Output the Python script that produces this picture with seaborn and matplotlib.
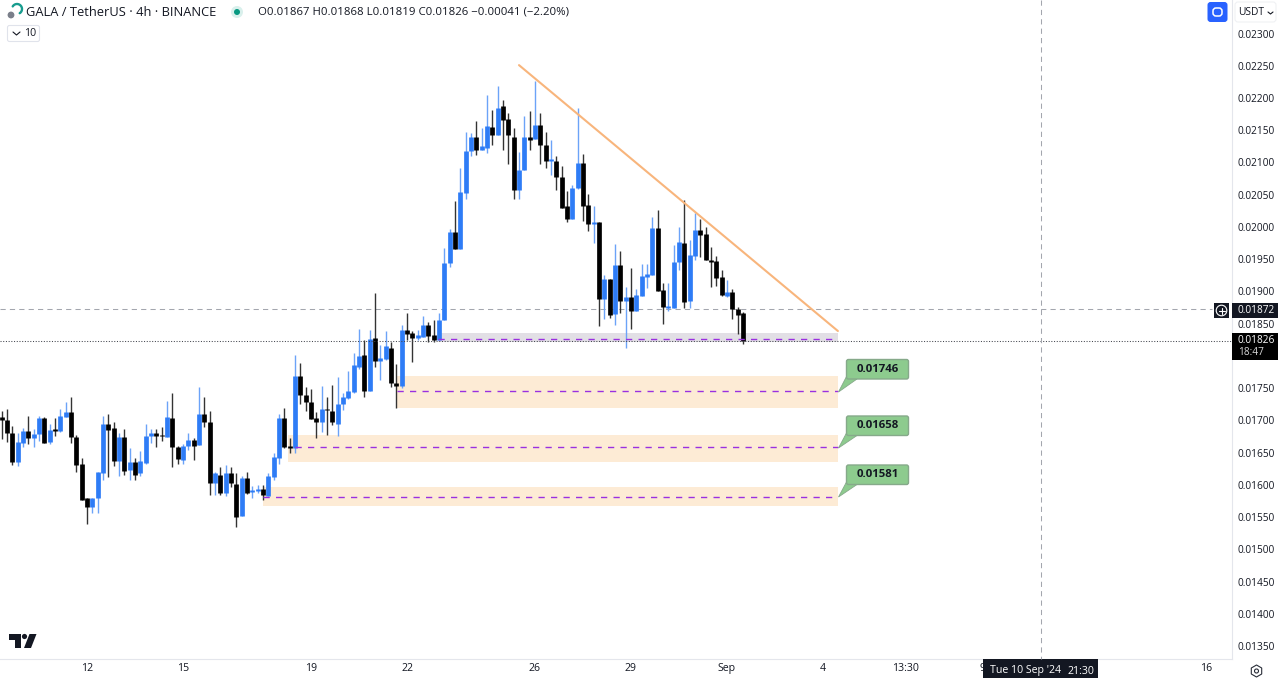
import numpy as np
import pandas as pd
import seaborn as sns
import matplotlib
matplotlib.use("Agg")
import matplotlib.pyplot as plt
from matplotlib.patches import Rectangle, FancyBboxPatch, Polygon, Circle, RegularPolygon

# ---- data: prices in units of 0.00001 USDT -------------------------------
opens = [1705,1700,1680,1636,1665,1684,1673,1679,1704,1666,
         1687,1684,1705,1713,1674,1632,1579,1565,1580,1619,
         1695,1688,1637,1674,1623,1636,1618,1634,1675,1680,
         1677,1674,1704,1658,1638,1660,1669,1662,1710,1698,
         1603,1615,1587,1619,1602,1551,1611,1589,1590,1593,
         1583,1612,1642,1703,1661,1657,1769,1740,1728,1703,
         1698,1718,1715,1695,1726,1734,1744,1783,1802,1746,
         1828,1792,1795,1813,1758,1753,1840,1835,1827,1830,
         1848,1833,1825,1855,1944,1992,1966,2053,2118,2140,
         2119,2123,2155,2143,2187,2167,2140,2057,2088,2139,
         2136,2158,2127,2102,2103,2077,2032,2013,2060,2099,
         2034,2004,2008,1888,1920,1865,1941,1885,1891,1870,
         1893,1923,1925,1999,1902,1874,1875,1946,1975,1885,
         1955,1996,1989,1949,1947,1922,1893,1899,1872,1867]
highs = [1715,1718,1692,1681,1688,1707,1686,1707,1705,1695,
         1703,1718,1728,1736,1678,1641,1579,1580,1620,1707,
         1710,1697,1681,1686,1657,1641,1653,1695,1686,1686,
         1690,1730,1743,1660,1664,1680,1672,1751,1737,1714,
         1620,1627,1631,1627,1619,1613,1620,1598,1600,1600,
         1619,1649,1710,1719,1673,1801,1789,1751,1749,1713,
         1753,1737,1755,1767,1742,1777,1805,1842,1825,1840,
         1898,1817,1838,1822,1788,1848,1866,1838,1840,1862,
         1852,1856,1866,1968,1997,2041,2091,2148,2146,2165,
         2153,2205,2181,2219,2197,2176,2153,2117,2172,2180,
         2226,2176,2147,2135,2110,2094,2055,2065,2184,2113,
         2051,2032,2008,1925,1920,1974,1962,1907,1936,1903,
         1943,1943,2016,2026,1913,1913,1972,2000,2042,1980,
         2022,2013,2000,1969,1955,1933,1918,1903,1876,1868]
lows = [1671,1667,1631,1629,1658,1663,1658,1668,1665,1663,
        1675,1682,1705,1665,1620,1576,1539,1556,1556,1607,
        1612,1629,1614,1615,1608,1608,1613,1632,1665,1658,
        1668,1674,1628,1632,1632,1654,1638,1662,1690,1584,
        1584,1584,1583,1596,1534,1551,1586,1579,1587,1576,
        1582,1608,1633,1657,1650,1650,1725,1715,1702,1672,
        1682,1677,1693,1676,1716,1733,1743,1779,1737,1746,
        1783,1763,1794,1751,1719,1750,1825,1791,1825,1829,
        1822,1822,1824,1855,1938,1966,1966,2044,2110,2112,
        2119,2115,2127,2143,2120,2097,2044,2043,2088,2119,
        2136,2097,2091,2081,2058,2030,2007,2013,2059,2010,
        1993,1975,1846,1858,1859,1848,1866,1813,1841,1869,
        1893,1905,1925,1901,1849,1869,1875,1933,1875,1875,
        1949,1954,1948,1907,1908,1893,1892,1858,1834,1819]
closes = [1700,1680,1635,1666,1684,1672,1679,1704,1665,1685,
          1684,1707,1713,1674,1631,1576,1565,1580,1620,1694,
          1685,1637,1674,1622,1636,1616,1637,1676,1681,1676,
          1675,1705,1658,1640,1661,1669,1661,1710,1698,1603,
          1619,1587,1619,1603,1550,1611,1587,1592,1593,1584,
          1614,1643,1704,1659,1657,1769,1739,1728,1702,1698,
          1717,1716,1697,1726,1737,1746,1786,1800,1746,1826,
          1792,1796,1815,1758,1754,1840,1834,1827,1832,1848,
          1831,1824,1856,1944,1992,1966,2054,2118,2140,2120,
          2125,2157,2143,2185,2166,2142,2057,2088,2140,2135,
          2158,2127,2103,2105,2077,2030,2013,2060,2099,2033,
          2005,2008,1888,1919,1864,1941,1885,1892,1869,1894,
          1924,1927,1998,1901,1876,1877,1946,1976,1884,1957,
          1996,1988,1948,1946,1921,1894,1899,1872,1864,1823]

x_tick_pos = [16, 34, 58, 76, 100, 118, 136, 154, 169.4, 184, 225.8]
x_tick_labels = ["12", "15", "19", "22", "26", "29", "Sep", "4", "13:30", "9", "16"]
price_ticks = [0.01350, 0.01400, 0.01450, 0.01500, 0.01550, 0.01600, 0.01650, 0.01700,
               0.01750, 0.01850, 0.01900, 0.01950, 0.02000, 0.02050, 0.02100,
               0.02150, 0.02200, 0.02250, 0.02300]

zone_start = [81.8, 74.1, 53.7, 49.0]
zone_end = 156.8
zone_top = [1835.5, 1769.5, 1677, 1597]
zone_bottom = [1821.5, 1719, 1635, 1567]
zone_level = [1826, 1746, 1658, 1581]
level_start = [81.8, 74.1, 55, 49.0]
trend_x = [97, 156.8]
trend_y = [2251, 1838.6]
cross_price = 0.01872
last_price = 0.01823

UNIT = 1e-5
BLUE, BLACK = "#2e7cf6", "#000000"
INK = "#131722"

sns.set_theme(style="white")
plt.rcParams["font.family"] = ["Open Sans", "DejaVu Sans"]

fig = plt.figure(figsize=(12.8, 6.78), dpi=100, facecolor="white")
ax = fig.add_axes([0, 19 / 678, 1232 / 1280, 659 / 678])
ax.set_facecolor("white")

# ---- candles, long form ---------------------------------------------------
o, h, l, c = (np.array(a) * UNIT for a in (opens, highs, lows, closes))
idx = np.arange(len(o))
side = np.where(c >= o, "up", "down")
wicks = pd.DataFrame({"i": np.r_[idx, idx], "price": np.r_[l, h],
                      "candle": np.r_[idx, idx], "side": np.r_[side, side]})
bodies = pd.DataFrame({"i": np.r_[idx, idx], "price": np.r_[o, c],
                       "candle": np.r_[idx, idx], "side": np.r_[side, side]})

# zones
for s, t, b in zip(zone_start[1:], zone_top[1:], zone_bottom[1:]):
    ax.add_patch(Rectangle((s, b * UNIT), zone_end - s, (t - b) * UNIT,
                           fc="#fdebd5", ec="none", zorder=1))
ax.add_patch(Rectangle((zone_start[0], zone_bottom[0] * UNIT), zone_end - zone_start[0],
                       (zone_top[0] - zone_bottom[0]) * UNIT, fc="#e2dfe5", ec="none", zorder=1))

ax.axhline(cross_price, color="#a3a6ae", lw=0.75, ls=(0, (5, 4)), xmax=1212 / 1232, zorder=1.5)

sns.lineplot(data=wicks, x="i", y="price", units="candle", hue="side", estimator=None,
             palette={"up": "#6ba3f8", "down": "#333333"}, lw=1.0, sort=False,
             legend=False, ax=ax, zorder=2, solid_capstyle="butt")
sns.lineplot(data=bodies, x="i", y="price", units="candle", hue="side", estimator=None,
             palette={"up": BLUE, "down": BLACK}, lw=3.4, sort=False,
             legend=False, ax=ax, zorder=3, solid_capstyle="butt")

for s, lv in zip(level_start, zone_level):
    ax.plot([s, zone_end], [lv * UNIT, lv * UNIT], color="#9a30e0", lw=1.0,
            ls=(0, (4.5, 4.5)), zorder=4)

ax.plot(trend_x, np.array(trend_y) * UNIT, color="#f8b57c", lw=1.5, zorder=4)
ax.axhline(last_price, color="#44474f", lw=0.75, ls=(0, (1, 1.6)), zorder=4)

# ---- scales ---------------------------------------------------------------
ax.set_xlim(-0.32, 230.7)
ax.set_ylim(0.013299, 0.02352)
ax.set_xlabel("")
ax.set_ylabel("")
ax.set_xticks(x_tick_pos)
ax.set_xticklabels(x_tick_labels)
ax.yaxis.tick_right()
ax.set_yticks(price_ticks)
ax.set_yticklabels([f"{p:.5f}" for p in price_ticks])
ax.tick_params(axis="y", length=0, pad=4.3, labelsize=7.3, labelcolor=INK, labelright=True)
ax.tick_params(axis="x", length=0, pad=3.2, labelsize=7.6, labelcolor=INK)
for name, sp in ax.spines.items():
    sp.set_visible(name in ("bottom", "right"))
    sp.set_color("#e4e6ec")
    sp.set_linewidth(0.8)

# ---- interface overlay in pixel coordinates -------------------------------
ui = fig.add_axes([0, 0, 1, 1], zorder=10)
ui.set_xlim(0, 1280)
ui.set_ylim(678, 0)
ui.axis("off")
ui.patch.set_alpha(0)

# crosshair vertical
ui.plot([1040.5, 1040.5], [0, 659], color="#a3a6ae", lw=0.75, ls=(0, (5, 4)))

# header
ui.add_patch(Circle((11, 15), 3.4, fc="#7a7f8a", ec="none"))
t = np.linspace(-2.6, 1.0, 30)
ui.plot(17 + 5 * np.cos(t), 9 + 5 * np.sin(t), color="#179c8e", lw=1.7)
ui.text(26, 12.5, "GALA / TetherUS · 4h · BINANCE", fontsize=9.3, color=INK, va="center")
ui.add_patch(Circle((237, 12), 6, fc="#d9f0ec", ec="none"))
ui.add_patch(Circle((237, 12), 3, fc="#089981", ec="none"))
ui.text(258, 12.5, "O0.01867 H0.01868 L0.01819 C0.01826 −0.00041 (−2.20%)",
        fontsize=8.2, color=INK, va="center")

ui.add_patch(FancyBboxPatch((7.5, 25.5), 32, 16, boxstyle="round,pad=0,rounding_size=2",
                            fc="white", ec="#e0e3eb", lw=0.8))
ui.plot([13, 16.5, 20], [32, 35, 32], color=INK, lw=0.8)
ui.text(24, 33.5, "10", fontsize=7.6, color=INK, va="center")

# top-right buttons
ui.add_patch(FancyBboxPatch((1207.5, 2), 20, 20, boxstyle="round,pad=0,rounding_size=3",
                            fc="#2962ff", ec="none"))
ui.add_patch(FancyBboxPatch((1213, 8), 9, 8, boxstyle="round,pad=0,rounding_size=3",
                            fc="none", ec="white", lw=1.1))
ui.add_patch(FancyBboxPatch((1235, 2), 41, 20, boxstyle="round,pad=0,rounding_size=3",
                            fc="white", ec="#f0f1f4", lw=0.8))
ui.text(1238, 12.5, "USDT", fontsize=7.4, color=INK, va="center")
ui.plot([1268, 1270.5, 1273], [12, 14, 12], color=INK, lw=0.8)

# TradingView mark
ui.add_patch(Polygon([(9, 634), (21, 634), (21, 648), (15, 648), (15, 640), (9, 640)],
                     fc=INK, ec="none"))
ui.add_patch(Circle((24.5, 636.5), 2.6, fc=INK, ec="none"))
ui.add_patch(Polygon([(29.5, 634), (36.5, 634), (31, 648), (24, 648)], fc=INK, ec="none"))

# price boxes
ui.add_patch(Rectangle((1214, 303), 15, 15, fc=INK, ec="none"))
ui.add_patch(Circle((1221.5, 310.5), 5.3, fc="none", ec="white", lw=0.8))
ui.plot([1218.5, 1224.5], [310.5, 310.5], color="white", lw=0.8)
ui.plot([1221.5, 1221.5], [307.5, 313.5], color="white", lw=0.8)
ui.add_patch(Rectangle((1232, 303), 46, 15, fc=INK, ec="none"))
ui.text(1238, 310.8, "0.01872", fontsize=7.3, color="white", va="center")
ui.add_patch(Rectangle((1232, 333), 46, 27, fc="#000000", ec="none"))
ui.text(1238, 340.5, "0.01826", fontsize=7.3, color="white", va="center")
ui.text(1238, 352.5, "18:47", fontsize=7.3, color="#d8d8d8", va="center")

# time label
ui.add_patch(Rectangle((983, 659), 115, 19, fc=INK, ec="none"))
ui.text(990, 671, "Tue 10 Sep '24", fontsize=7.6, color="white", va="center")
ui.text(1067, 671, "21:30", fontsize=7.6, color="white", va="center")

# settings icon
ui.add_patch(RegularPolygon((1256.5, 671), 6, radius=6, fc="white", ec="#2a2e39", lw=0.8))
ui.add_patch(Circle((1256.5, 671), 2, fc="none", ec="#2a2e39", lw=0.8))

# level callouts
GREEN, GREEN_EDGE = "#8dcb8e", "#86a98a"
for top, tip_y, label in [(359.5, 392, "0.01746"), (416, 448, "0.01658"), (465, 497, "0.01581")]:
    ui.add_patch(Polygon([(846.5, top + 17), (857, top + 19.5), (838.5, tip_y)],
                         fc=GREEN, ec=GREEN_EDGE, lw=0.6))
    ui.add_patch(FancyBboxPatch((846.5, top), 62, 19.5, boxstyle="round,pad=0,rounding_size=2",
                                fc=GREEN, ec=GREEN_EDGE, lw=1.0))
    ui.text(877.5, top + 9.8, label, fontsize=8.2, fontweight="bold", color=INK,
            ha="center", va="center")

fig.savefig("out.png", dpi=100)
